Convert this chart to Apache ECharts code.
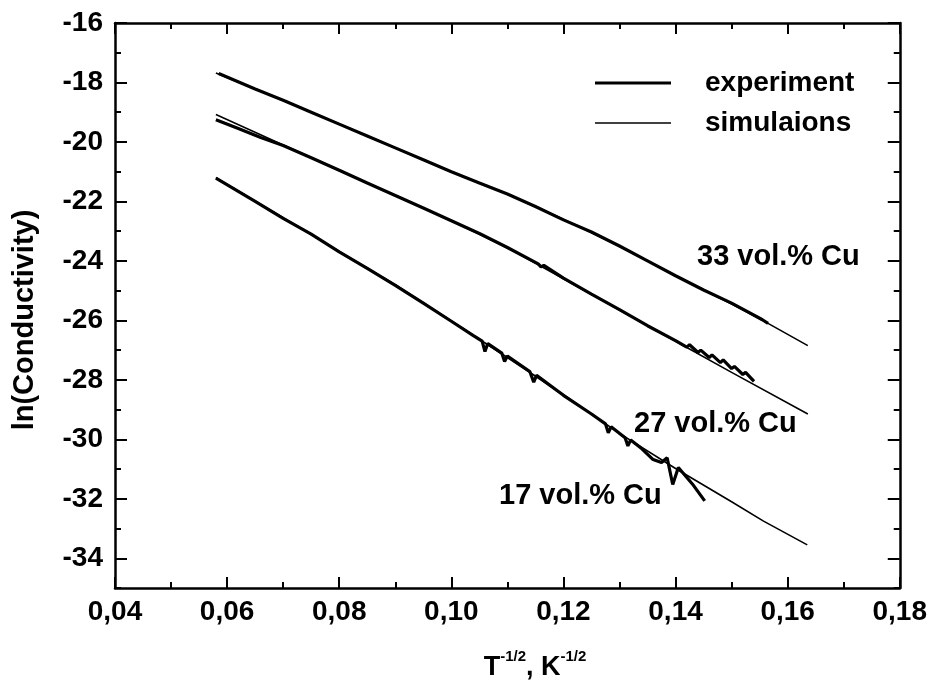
<!DOCTYPE html>
<html><head><meta charset="utf-8">
<script src="https://cdn.jsdelivr.net/npm/echarts@6/dist/echarts.min.js"></script>
<style>html,body{margin:0;padding:0;background:#fff}#c{width:930px;height:692px}</style>
</head><body><div id="c"></div>
<script>
// ---- tick labels ----
const xTicks = [0.04, 0.06, 0.08, 0.10, 0.12, 0.14, 0.16, 0.18];
const yMajorTicks = [-34, -32, -30, -28, -26, -24, -22, -20, -18, -16];
const yMinorTicks = [-35, -33, -31, -29, -27, -25, -23, -21, -19, -17];

// ---- 33 vol.% Cu ----
const sim33X = [0.058, 0.07, 0.08, 0.09, 0.10, 0.11, 0.12, 0.13, 0.14, 0.15, 0.1565, 0.1636];
const sim33Y = [-17.68, -18.6, -19.4, -20.2, -21.0, -21.75, -22.6, -23.5, -24.5, -25.45, -26.1, -26.85];
const exp33X = [0.0585, 0.065, 0.07, 0.075, 0.08, 0.085, 0.09, 0.095, 0.10, 0.105, 0.11, 0.115, 0.12, 0.125, 0.13, 0.135, 0.14, 0.145, 0.15, 0.153, 0.1555, 0.1565];
const exp33Y = [-17.70, -18.22, -18.6, -19.0, -19.4, -19.8, -20.2, -20.6, -21.0, -21.38, -21.75, -22.17, -22.62, -23.03, -23.5, -24.0, -24.5, -24.98, -25.42, -25.72, -25.98, -26.1];

// ---- 27 vol.% Cu ----
const sim27X = [0.058, 0.07, 0.08, 0.09, 0.10, 0.11, 0.12, 0.13, 0.14, 0.15, 0.1636];
const sim27Y = [-19.08, -20.1, -20.95, -21.8, -22.65, -23.55, -24.6, -25.65, -26.7, -27.75, -29.15];
const exp27X = [0.058, 0.062, 0.066, 0.07, 0.075, 0.08, 0.085, 0.09, 0.095, 0.10, 0.105, 0.11, 0.1155, 0.116, 0.1165, 0.12, 0.125, 0.13, 0.135, 0.14, 0.142, 0.1425, 0.144, 0.1445, 0.146, 0.1465, 0.148, 0.1485, 0.15, 0.1505, 0.152, 0.1525, 0.1535, 0.154];
const exp27Y = [-19.25, -19.55, -19.85, -20.12, -20.53, -20.95, -21.38, -21.8, -22.22, -22.65, -23.08, -23.55, -24.1, -24.2, -24.15, -24.58, -25.12, -25.64, -26.18, -26.68, -26.9, -26.82, -27.08, -27.0, -27.25, -27.16, -27.42, -27.33, -27.62, -27.55, -27.82, -27.75, -27.95, -28.05];

// ---- 17 vol.% Cu ----
const sim17X = [0.058, 0.07, 0.08, 0.09, 0.10, 0.11, 0.12, 0.13, 0.14, 0.15, 0.1557, 0.1635];
const sim17Y = [-21.2, -22.55, -23.68, -24.8, -26.02, -27.25, -28.5, -29.8, -30.98, -32.1, -32.75, -33.55];
const exp17X = [0.058, 0.065, 0.07, 0.075, 0.08, 0.085, 0.09, 0.095, 0.10, 0.104, 0.1055, 0.106, 0.1065, 0.109, 0.1095, 0.110, 0.114, 0.1147, 0.1152, 0.12, 0.125, 0.1275, 0.128, 0.1285, 0.131, 0.1315, 0.132, 0.134, 0.136, 0.1375, 0.1385, 0.1395, 0.1405, 0.143, 0.1452];
const exp17Y = [-21.22, -22.0, -22.57, -23.1, -23.7, -24.25, -24.82, -25.42, -26.03, -26.52, -26.7, -27.05, -26.78, -27.1, -27.38, -27.2, -27.72, -28.08, -27.85, -28.52, -29.15, -29.48, -29.78, -29.58, -29.95, -30.22, -30.02, -30.32, -30.68, -30.78, -30.62, -31.52, -30.95, -31.5, -32.07];

const zip = (xs, ys) => xs.map((x, i) => [x, ys[i]]);
const FONT = '"Liberation Sans", Arial, Helvetica, sans-serif';
const EXP_W = 3.2, SIM_W = 1.6;

const chart = echarts.init(document.getElementById('c'));

function expSeries(xs, ys) {
  return { name: 'experiment', type: 'line', data: zip(xs, ys), symbol: 'none', showSymbol: false,
    lineStyle: { color: '#000', width: EXP_W }, itemStyle: { color: '#000' }, animation: false, z: 2 };
}
function simSeries(xs, ys) {
  return { name: 'simulaions', type: 'line', data: zip(xs, ys), symbol: 'none', showSymbol: false,
    lineStyle: { color: '#000', width: SIM_W }, itemStyle: { color: '#000' }, animation: false, z: 3 };
}

const axisLineStyle = { color: '#000', width: 2.5 };
const tickStyle = { color: '#000', width: 2 };
const labelStyle = { color: '#000', fontSize: 28, fontWeight: 'bold', fontFamily: FONT };

function xAx(pos, showLabel) {
  return {
    type: 'value', position: pos, min: 0.04, max: 0.18, interval: 0.02,
    axisLine: { show: true, onZero: false, lineStyle: axisLineStyle },
    axisTick: { show: true, inside: true, length: 11, lineStyle: tickStyle },
    minorTick: { show: true, splitNumber: 2, length: 6, lineStyle: tickStyle },
    splitLine: { show: false }, minorSplitLine: { show: false },
    axisLabel: Object.assign({ show: showLabel, margin: 10,
      formatter: v => v.toFixed(2).replace('.', ',') }, labelStyle)
  };
}
function yAx(pos, ticks, len, showLine, showLabel) {
  return {
    type: 'value', position: pos, min: -35, max: -16, interval: 1,
    axisLine: { show: showLine, onZero: false, lineStyle: axisLineStyle },
    axisTick: { show: true, inside: true, length: len, lineStyle: tickStyle, customValues: ticks },
    splitLine: { show: false },
    axisLabel: Object.assign({ show: showLabel, margin: 12, customValues: ticks,
      formatter: v => String(v) }, labelStyle)
  };
}
function legendFor(name, top, h) {
  return {
    data: [name], orient: 'vertical', left: 590, top: top,
    icon: 'rect', itemWidth: 76, itemHeight: h,
    itemStyle: { color: '#000', borderWidth: 0 },
    textStyle: { color: '#000', fontSize: 28, fontWeight: 'bold', fontFamily: FONT, padding: [0, 0, 0, 29] },
    selectedMode: false
  };
}

chart.setOption({
  backgroundColor: '#fff',
  animation: false,
  grid: { left: 115, right: 29, top: 23, bottom: 104, containLabel: false },
  xAxis: [xAx('bottom', true), xAx('top', false)],
  yAxis: [
    yAx('left', yMajorTicks, 12, true, true),
    yAx('left', yMinorTicks, 6, false, false),
    yAx('right', yMajorTicks, 12, true, false),
    yAx('right', yMinorTicks, 6, false, false)
  ],
  legend: [legendFor('experiment', 64, EXP_W), legendFor('simulaions', 104, SIM_W)],
  series: [
    expSeries(exp33X, exp33Y), simSeries(sim33X, sim33Y),
    expSeries(exp27X, exp27Y), simSeries(sim27X, sim27Y),
    expSeries(exp17X, exp17Y), simSeries(sim17X, sim17Y)
  ],
  graphic: [
    { type: 'text', left: 697, top: 242, style: { text: '33 vol.% Cu', fill: '#000', font: 'bold 29px ' + FONT } },
    { type: 'text', left: 634, top: 409, style: { text: '27 vol.% Cu', fill: '#000', font: 'bold 29px ' + FONT } },
    { type: 'text', left: 499, top: 481, style: { text: '17 vol.% Cu', fill: '#000', font: 'bold 29px ' + FONT } },
    { type: 'text', x: 25, y: 320, rotation: Math.PI / 2,
      style: { text: 'ln(Conductivity)', fill: '#000', font: 'bold 29px ' + FONT, align: 'center', verticalAlign: 'middle' } },
    { type: 'text', x: 535, y: 668,
      style: { text: '{b|T}{s|-1/2}{b|, K}{s|-1/2}', align: 'center', verticalAlign: 'middle',
        rich: {
          b: { fontSize: 27, fontWeight: 'bold', fontFamily: FONT, fill: '#000', color: '#000' },
          s: { fontSize: 15, fontWeight: 'bold', fontFamily: FONT, fill: '#000', color: '#000', padding: [0, 0, 22, 0] }
        } } }
  ]
});
</script>
</body></html>
